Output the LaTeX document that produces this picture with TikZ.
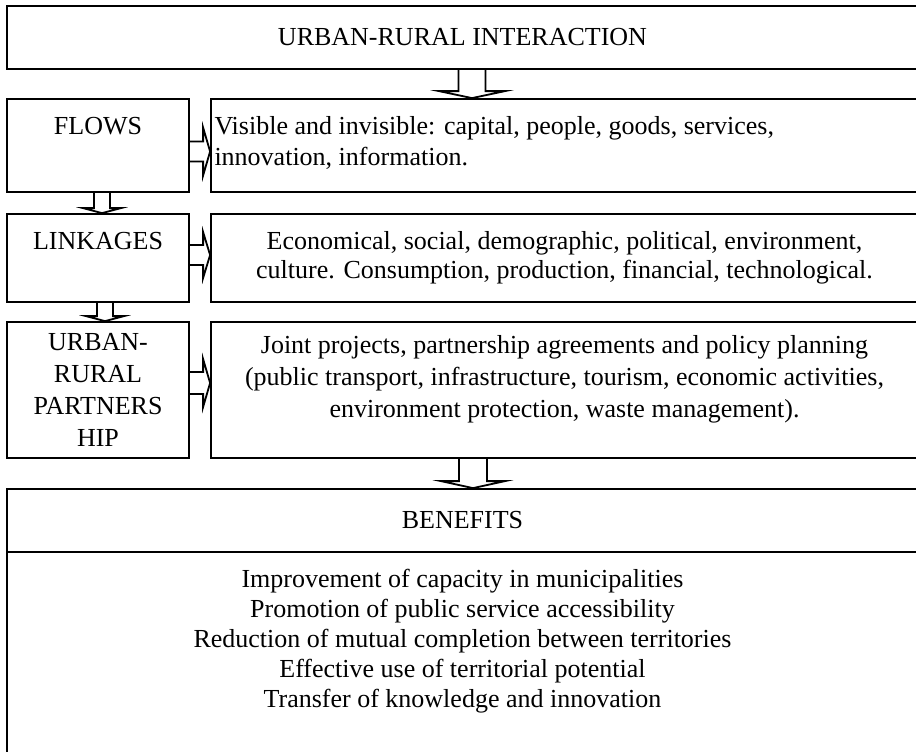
\documentclass[tikz,border=0pt]{standalone}
\usepackage{fontspec}
\setmainfont{Liberation Serif}
\usepackage{tikz}
\usetikzlibrary{calc}

% block arrows: from, to, shaft half width, head half width, head length
\newcommand{\blockdown}[5]{%
  \draw[blockarrow] let \p1=(#1), \p2=(#2) in
    (\x1-#3,\y1) -- (\x1-#3,\y2+#5) -- (\x1-#4,\y2+#5) -- (\x1,\y2)
    -- (\x1+#4,\y2+#5) -- (\x1+#3,\y2+#5) -- (\x1+#3,\y1);}
\newcommand{\blockright}[5]{%
  \draw[blockarrow] let \p1=(#1), \p2=(#2) in
    (\x1,\y1+#3) -- (\x2-#5,\y1+#3) -- (\x2-#5,\y1+#4) -- (\x2,\y1)
    -- (\x2-#5,\y1-#4) -- (\x2-#5,\y1-#3) -- (\x1,\y1-#3);}

\begin{document}
\begin{tikzpicture}[x=0.5pt,y=-0.5pt,
    box/.style={draw,line width=0.9pt,inner sep=0pt,align=center},
    blockarrow/.style={draw,line width=0.9pt,line join=miter},
    font=\fontsize{13}{15.5}\selectfont]
          \path[use as bounding box,fill=white] (0,0) rectangle (916,751);
          % top box
          \node[box,minimum width=455.5pt,minimum height=31.5pt] (interaction) at (462.5,37.5) {URBAN-RURAL INTERACTION};
          % left column
          \node[box,minimum width=91pt,minimum height=46.5pt,text height=17.5pt,text depth=29pt] (flows) at (98,145.5) {FLOWS};
          \node[box,minimum width=91pt,minimum height=44pt,text height=17.5pt,text depth=26.5pt] (linkages) at (98,258) {LINKAGES};
          \node[box,minimum width=91pt,minimum height=68pt,font=\fontsize{13}{16}\selectfont] (partner) at (98,390) {URBAN-\\RURAL\\PARTNERS\\HIP};
          % right column
          \node[box,minimum width=353.5pt,minimum height=46.5pt] (visible) at (564.5,145.5) {};
          \node[anchor=north west,inner sep=0pt,align=left] (visibletext) at ([xshift=2pt,yshift=-9pt]visible.north west)
               {Visible and invisible: capital, people, goods, services,\\innovation, information.};
          \node[box,minimum width=353.5pt,minimum height=44pt,font=\fontsize{13}{14.5}\selectfont] (economy) at (564.5,258)
               {Economical, social, demographic, political, environment,\\culture. Consumption, production, financial, technological.};
          \node[box,minimum width=353.5pt,minimum height=68pt] (joint) at (564.5,390) {};
          \node[inner sep=0pt,align=center,font=\fontsize{13}{16}\selectfont] (jointtext) at ([yshift=5.5pt]joint.center)
               {Joint projects, partnership agreements and policy planning\\(public transport, infrastructure, tourism, economic activities,\\environment protection, waste management).};
          % benefits
          \node[box,minimum width=455.5pt,minimum height=31.5pt] (benhead) at (462.5,520.5) {BENEFITS};
          \node[box,minimum width=455.5pt,minimum height=124pt] (benbody) at (462.5,676) {};
          \node[inner sep=0pt,align=center,font=\fontsize{13}{15}\selectfont] (benlist) at ([yshift=17.5pt]benbody.center)
               {Improvement of capacity in municipalities\\Promotion of public service accessibility\\Reduction of mutual completion between territories\\Effective use of territorial potential\\Transfer of knowledge and innovation};
          % block arrows
          \blockdown{[xshift=4.75pt]interaction.south}{visible.north}{6.75pt}{16.5pt}{3.5pt}
          \blockright{[yshift=-3pt]flows.east}{visible.west}{5pt}{12pt}{3.5pt}
          \blockdown{[xshift=2pt]flows.south}{linkages.north}{4pt}{9.5pt}{2.5pt}
          \blockright{[yshift=1.5pt]linkages.east}{economy.west}{5pt}{11.5pt}{3.5pt}
          \blockdown{[xshift=3.5pt]linkages.south}{partner.north}{4pt}{9.5pt}{2.5pt}
          \blockright{[yshift=3.5pt]partner.east}{joint.west}{5.5pt}{12pt}{3.5pt}
          \blockdown{[xshift=-45.75pt]joint.south}{benhead.north}{7pt}{16pt}{3.5pt}
        \end{tikzpicture}
\end{document}
